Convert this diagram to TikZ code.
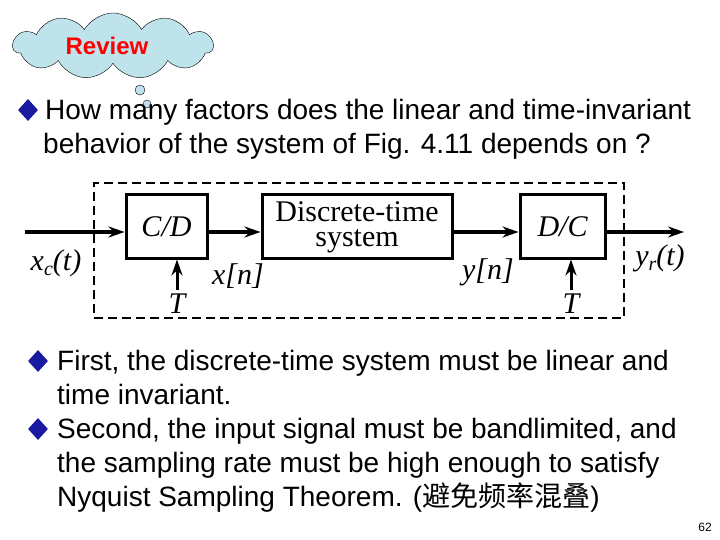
\documentclass[tikz,border=0pt]{standalone}
\usepackage{fontspec}
\setmainfont{Liberation Sans}
\newfontfamily\seriff{Liberation Serif}
\newfontfamily\cjk{Noto Sans CJK SC}
\usetikzlibrary{shapes.geometric,shapes.symbols,arrows.meta}
\definecolor{bul}{HTML}{1A1AA0}
\definecolor{cloudc}{HTML}{BFE3EA}
\begin{document}
\begin{tikzpicture}[x=1pt,y=-1pt,
  txt/.style={anchor=base west,font=\fontsize{28}{28}\selectfont,inner sep=0},
  bulmark/.style={diamond,fill=bul,inner sep=0,minimum width=20pt,minimum height=22pt},
  blk/.style={draw,line width=3pt,font=\seriff\fontsize{30}{30}\selectfont,align=center,inner sep=0},
  lbl/.style={font=\seriff\itshape\fontsize{30}{30}\selectfont,inner sep=0},
  sig/.style={line width=3pt,-{Stealth[length=16pt,width=11pt]}}]
\useasboundingbox (0,0) rectangle (720,540);
% cloud
\node[cloud,cloud puffs=11,cloud puff arc=120,aspect=3.2,draw,fill=cloudc,minimum width=200pt,minimum height=66pt] (cl) at (113,46) {};
\node[text=red,font=\bfseries\fontsize{24}{24}\selectfont] (rv) at (107,46) {Review};
\node[circle,draw,fill=cloudc,minimum size=10pt,inner sep=0] (b1) at (140,90) {};
\node[circle,draw,fill=cloudc,minimum size=8pt,inner sep=0] (b2) at (147,104) {};
% question
\node[bulmark] (q) at (28,110) {};
\node[txt] (q1) at (45,120) {How many factors does the linear and time-invariant};
\node[txt] (q2) at (43,154) {behavior of the system of Fig. 4.11 depends on ?};
% diagram
\node[draw,dash pattern=on 9pt off 5pt,line width=1.5pt,minimum width=530pt,minimum height=135pt] (dash) at (359,250.5) {};
\node[blk,minimum width=81pt,minimum height=63pt] (cd) at (166.5,226.5) {\itshape C/D};
\node[blk,minimum width=190pt,minimum height=63pt] (dt) at (357,226.5) {};
\node[font=\seriff\fontsize{30}{30}\selectfont,anchor=base,inner sep=0] (dt1) at (357,222) {Discrete-time};
\node[font=\seriff\fontsize{30}{30}\selectfont,anchor=base,inner sep=0] (dt2) at (357,247) {system};
\node[blk,minimum width=85pt,minimum height=63pt] (dc) at (562.5,226.5) {\itshape D/C};
\coordinate (in) at (25,232);
\coordinate (out) at (684,232);
\draw[sig] (in) -- (cd.west|-in);
\draw[sig] (cd.east|-in) -- (dt.west|-in);
\draw[sig] (dt.east|-in) -- (dc.west|-in);
\draw[sig] (dc.east|-in) -- (out);
\coordinate (t1) at (177,290);
\coordinate (t2) at (571,290);
\draw[sig] (t1) -- (t1|-cd.south);
\draw[sig] (t2) -- (t2|-dc.south);
\node[lbl] (T1) at (177,304) {T};
\node[lbl] (T2) at (571,304) {T};
\node[lbl] (xc) at (56,263) {x\raisebox{-5pt}{\fontsize{20}{20}\selectfont c}(t)};
\node[lbl] (xn) at (238,276) {x[n]};
\node[lbl] (yn) at (488,272) {y[n]};
\node[lbl] (yr) at (660,258) {y\raisebox{-5pt}{\fontsize{20}{20}\selectfont r}(t)};
% bullets
\node[bulmark] (a) at (38,361) {};
\node[txt] (a1) at (57,370) {First, the discrete-time system must be linear and};
\node[txt] (a2) at (57,404) {time invariant.};
\node[bulmark] (b) at (38,429) {};
\node[txt] (b1t) at (57,438) {Second, the input signal must be bandlimited, and};
\node[txt] (b2t) at (57,472) {the sampling rate must be high enough to satisfy};
\node[txt] (b3t) at (57,506) {Nyquist Sampling Theorem. ({\cjk 避免频率混叠})};
\node[font=\fontsize{12}{12}\selectfont] (pg) at (705,527) {62};
\end{tikzpicture}
\end{document}
